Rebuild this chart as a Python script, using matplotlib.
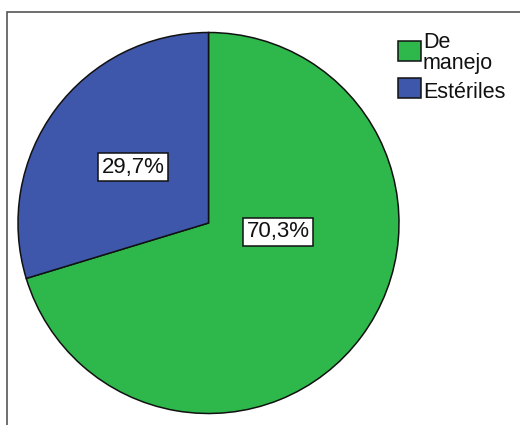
import matplotlib
matplotlib.use("Agg")
import matplotlib.pyplot as plt
from matplotlib.patches import Rectangle

categories = ["De\nmanejo", "Estériles"]
values = [70.3, 29.7]
colors = ["#2eb84b", "#3f57aa"]
label_pos = [(278, 232), (133, 167)]  # pixel centres of the value boxes

W, H = 520, 425
FONT = "Liberation Sans"
fig = plt.figure(figsize=(W / 100, H / 100), dpi=100)
fig.patch.set_facecolor("white")


def fx(px):
    return px / W


def fy(py):
    return 1 - py / H


# outer frame (left and top edges visible)
fig.add_artist(Rectangle((fx(7), -0.1), 1.2, (H - 12) / H + 0.1,
                         transform=fig.transFigure, fill=False,
                         edgecolor="#555555", linewidth=1.2))

cx, cy, r = 208.5, 223, 190.5
ax = fig.add_axes([(cx - r) / W, (H - cy - r) / H, 2 * r / W, 2 * r / H])
wedges, _ = ax.pie(values, colors=colors, startangle=90, counterclock=False,
                   radius=1, center=(0, 0), frame=False,
                   wedgeprops=dict(edgecolor="#111111", linewidth=1.1))
ax.set_xlim(-1, 1)
ax.set_ylim(-1, 1)
ax.set_aspect("auto")
ax.axis("off")

for v, (px, py) in zip(values, label_pos):
    fig.text(fx(px), fy(py), f"{v:.1f}%".replace(".", ","),
             ha="center", va="center", fontsize=16, family=FONT,
             color="#111111",
             bbox=dict(boxstyle="square,pad=0.16", facecolor="white",
                       edgecolor="#111111", linewidth=1.1))

# legend: swatches and labels
swatch_top = [41, 78]
for top, c in zip(swatch_top, colors):
    fig.add_artist(Rectangle((fx(398), fy(top + 20)), 23 / W, 20 / H,
                             transform=fig.transFigure, facecolor=c,
                             edgecolor="#111111", linewidth=1.1))

baselines = [[48, 69], [98]]
for name, bls in zip(categories, baselines):
    for line, bl in zip(name.split("\n"), bls):
        fig.text(fx(423), fy(bl), line, ha="left", va="baseline",
                 fontsize=15.5, family=FONT, color="#111111")

fig.savefig("out.png", dpi=100, facecolor="white")
